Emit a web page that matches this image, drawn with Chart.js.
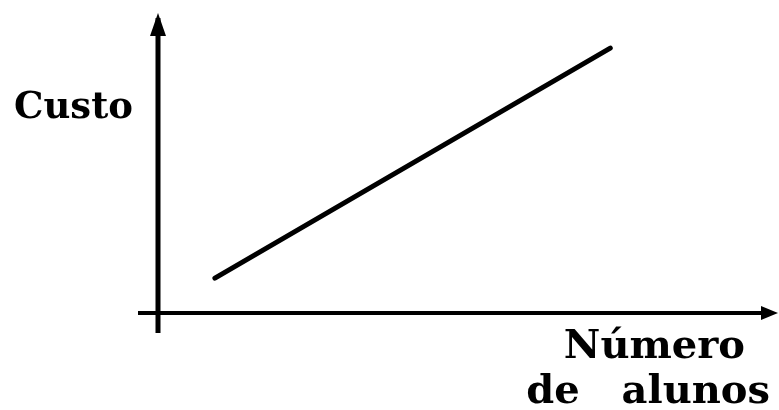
<!DOCTYPE html>
<html>
<head>
<meta charset="utf-8">
<script src="https://cdn.jsdelivr.net/npm/chart.js@4"></script>
<style>
  html, body { margin: 0; padding: 0; background: #fff; }
  #wrap { width: 779px; height: 410px; }
</style>
</head>
<body>
<div id="wrap"><canvas id="myChart"></canvas></div>
<script>
// values (arbitrary units, axes run 0..10)
var alunos = [0.93, 7.39];
var custo  = [1.19, 9.04];
var yLabel = "Custo";
var xLabel = ["Número", "de   alunos"];

var points = alunos.map(function (x, i) { return {x: x, y: custo[i]}; });

// axes with arrows + axis labels, drawn from the scales
var arrowAxes = {
  id: "arrowAxes",
  afterDraw: function (chart) {
    var ctx = chart.ctx;
    var xs = chart.scales.x, ys = chart.scales.y;
    var x0 = xs.getPixelForValue(0), y0 = ys.getPixelForValue(0);
    var yTop = ys.getPixelForValue(10), xEnd = xs.getPixelForValue(10);
    ctx.save();
    ctx.fillStyle = "#000";
    ctx.strokeStyle = "#000";
    ctx.lineCap = "butt";
    // vertical axis
    ctx.lineWidth = 5;
    ctx.beginPath();
    ctx.moveTo(x0, y0 + 20);
    ctx.lineTo(x0, yTop - 2);
    ctx.stroke();
    ctx.beginPath();
    ctx.moveTo(x0, yTop - 7);
    ctx.lineTo(x0 - 8, yTop + 16);
    ctx.lineTo(x0 + 8, yTop + 16);
    ctx.closePath();
    ctx.fill();
    // horizontal axis
    ctx.lineWidth = 4;
    ctx.beginPath();
    ctx.moveTo(x0 - 20, y0);
    ctx.lineTo(xEnd - 2, y0);
    ctx.stroke();
    ctx.beginPath();
    ctx.moveTo(xEnd + 8, y0);
    ctx.lineTo(xEnd - 9, y0 - 7);
    ctx.lineTo(xEnd - 9, y0 + 7);
    ctx.closePath();
    ctx.fill();
    // labels
    ctx.textBaseline = "alphabetic";
    ctx.font = "bold 37px 'DejaVu Serif'";
    ctx.textAlign = "left";
    ctx.fillText(yLabel, 14, 118);
    ctx.font = "bold 40px 'DejaVu Serif'";
    ctx.textAlign = "right";
    ctx.fillText(xLabel[0], 745, 358);
    ctx.fillText(xLabel[1], 770, 403);
    ctx.restore();
  }
};

new Chart("myChart", {
  type: "scatter",
  data: {
    datasets: [{
      data: points,
      showLine: true,
      borderColor: "#000",
      borderWidth: 5,
      pointRadius: 0,
      borderCapStyle: "round"
    }]
  },
  options: {
    responsive: true,
    maintainAspectRatio: false,
    animation: false,
    layout: { padding: { left: 158, right: 9, top: 20, bottom: 97 } },
    plugins: { legend: { display: false }, tooltip: { enabled: false } },
    scales: {
      x: { type: "linear", min: 0, max: 10, display: false },
      y: { type: "linear", min: 0, max: 10, display: false }
    }
  },
  plugins: [arrowAxes]
});
</script>
</body>
</html>
